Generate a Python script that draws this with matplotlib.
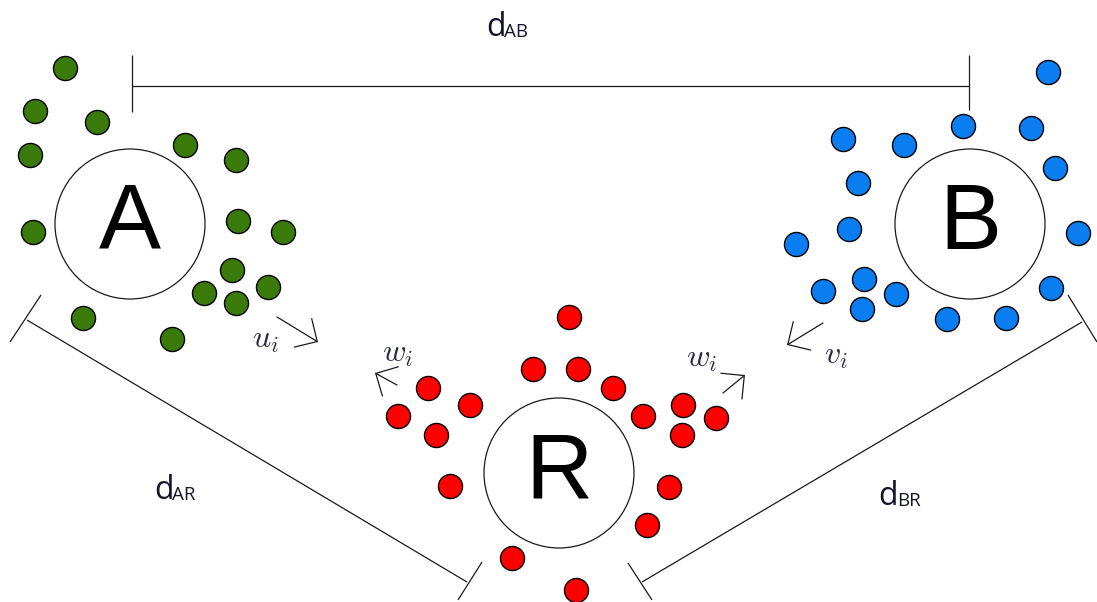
import matplotlib
matplotlib.use("Agg")
import matplotlib.pyplot as plt
from matplotlib.patches import Circle

# ---------------- data (pixel coordinates of the diagram) ----------------
green_x = [65, 35, 97, 30, 185, 236, 33, 238, 283, 232, 268, 204, 236, 83, 172]
green_y = [68, 111, 122, 155, 145, 160, 232, 221, 232, 270, 287, 293, 303, 318, 339]

blue_x = [1048, 963, 1031, 843, 904, 1055, 858, 849, 1078, 796, 864, 823, 896, 1051, 862, 947, 1006]
blue_y = [72, 126, 128, 139, 145, 168, 183, 229, 233, 244, 279, 291, 294, 288, 309, 319, 318]

red_x = [569, 533, 578, 613, 428, 470, 398, 643, 683, 716, 436, 682, 450, 669, 647, 512, 576]
red_y = [317, 369, 369, 388, 388, 405, 416, 416, 405, 418, 435, 435, 486, 487, 525, 558, 590]

node_labels = ["A", "B", "R"]
node_x = [130, 970, 559]
node_y = [224, 224, 473]
node_r = [75, 75, 75]

# dimension lines: (x0, y0, x1, y1) and end ticks
dim_main = {"AB": (132, 86, 969, 86), "AR": (27, 320, 467, 582), "BR": (642, 582, 1082, 322)}
dim_ticks = [(132, 55, 132, 112), (969, 55, 969, 110),
             (41, 295, 10, 342), (482, 562, 458, 600),
             (628, 563, 652, 600), (1068, 295, 1097, 342)]
dist_labels = [("d", "AB", 486, 36, 504, 37),
               ("d", "AR", 154, 499, 172, 500),
               ("d", "BR", 878, 505, 897, 506)]

# velocity arrows: (tail x, tail y, head x, head y)
vel_arrows = [(277, 317, 318, 342), (397, 385, 375, 373), (723, 393, 745, 375), (823, 323, 787, 345)]
vel_labels = [(r"$u_i$", 252, 348), (r"$w_i$", 382, 362), (r"$w_i$", 686, 367), (r"$v_i$", 824, 364)]

# ---------------- drawing ----------------
plt.rcParams["mathtext.fontset"] = "cm"
fig = plt.figure(figsize=(10.97, 6.02), dpi=100)
ax = fig.add_axes([0, 0, 1, 1])
ax.set_xlim(0, 1097)
ax.set_ylim(602, 0)
ax.axis("off")

line_kw = dict(color="#1a1a1a", lw=0.9, solid_capstyle="butt")
for x0, y0, x1, y1 in dim_main.values():
    ax.plot([x0, x1], [y0, y1], **line_kw)
for x0, y0, x1, y1 in dim_ticks:
    ax.plot([x0, x1], [y0, y1], **line_kw)

for lab, x, y, r in zip(node_labels, node_x, node_y, node_r):
    ax.add_patch(Circle((x, y), r, fill=False, ec="#1a1a1a", lw=0.9))
    ax.text(x, y + 1, lab, fontsize=67, family="Liberation Sans", ha="center", va="center", color="black")

dot_kw = dict(s=300, edgecolors="black", linewidths=1.0, zorder=3)
ax.scatter(green_x, green_y, c="#3a7a0a", **dot_kw)
ax.scatter(blue_x, blue_y, c="#0a7ef0", **dot_kw)
ax.scatter(red_x, red_y, c="#ff0000", **dot_kw)

for main, sub, x, y, sx, sy in dist_labels:
    ax.text(x, y, main, fontsize=23, family="Open Sans", ha="left", va="baseline", color="#141428")
    ax.text(sx, sy, sub, fontsize=13.5, family="Open Sans", ha="left", va="baseline", color="#141428")

for x0, y0, x1, y1 in vel_arrows:
    ax.annotate("", xy=(x1, y1), xytext=(x0, y0),
                arrowprops=dict(arrowstyle="->,head_length=0.6,head_width=0.6",
                                lw=0.9, color="#1a1a1a", mutation_scale=20,
                                shrinkA=0, shrinkB=0))
for txt, x, y in vel_labels:
    ax.text(x, y, txt, fontsize=23, ha="left", va="baseline", color="#2b2b48")

fig.savefig("out.png", dpi=100)
